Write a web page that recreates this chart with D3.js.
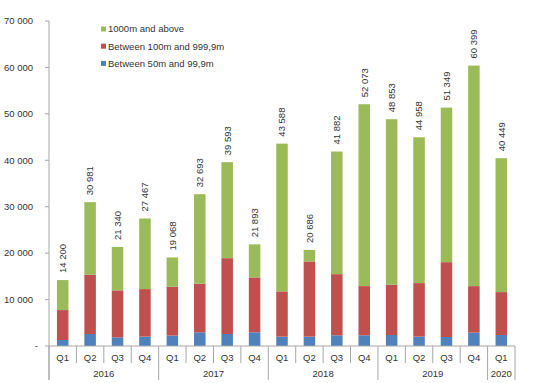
<!DOCTYPE html>
<html><head><meta charset="utf-8">
<script src="https://cdn.jsdelivr.net/npm/d3@7"></script>
<style>body{margin:0;background:#fff}svg{display:block;font-family:"Liberation Sans",Arial,sans-serif}</style>
</head><body>
<svg id="c" width="537" height="383"></svg>
<script>
const quarters = ["Q1","Q2","Q3","Q4","Q1","Q2","Q3","Q4","Q1","Q2","Q3","Q4","Q1","Q2","Q3","Q4","Q1"];
const years = ["2016","2016","2016","2016","2017","2017","2017","2017","2018","2018","2018","2018","2019","2019","2019","2019","2020"];
const totals = [14200,30981,21340,27467,19068,32693,39593,21893,43588,20686,41882,52073,48853,44958,51349,60399,40449];
const small = [1290,2580,1870,2020,2240,2950,2580,2950,2020,2020,2300,2300,2370,2020,1940,2880,2370];
const medium = [6450,12770,10110,10240,10530,10470,16340,11820,9740,16190,13180,10600,10830,11530,16120,10020,9240];
const large = totals.map((t,i)=>t-small[i]-medium[i]);
const yTicks = [0,10000,20000,30000,40000,50000,60000,70000];
const seriesNames = ["Between 50m and 99,9m","Between 100m and 999,9m","1000m and above"];
const colors = ["#4F81BD","#C0504D","#9BBB59"];

const svg = d3.select("#c");
const fmt = v => v===0 ? "-" : d3.format(",")(v).replace(/,/g," ");
const x = d3.scaleBand().domain(d3.range(totals.length)).range([49,515]).paddingInner(0.58).paddingOuter(0.29);
const y = d3.scaleLinear().domain([0,70000]).range([346,21]);
const axisColor = "#A6A6A6";

const rows = totals.map((t,i)=>({i, s:small[i], m:medium[i], l:large[i]}));
const stack = d3.stack().keys(["s","m","l"])(rows);
svg.selectAll("g.ser").data(stack).join("g").attr("fill",(d,k)=>colors[k])
  .selectAll("rect").data(d=>d).join("rect")
  .attr("x",d=>x(d.data.i)).attr("width",x.bandwidth())
  .attr("y",d=>y(d[1])).attr("height",d=>y(d[0])-y(d[1]));

// y axis
svg.append("line").attr("x1",49).attr("x2",49).attr("y1",y(70000)).attr("y2",380).attr("stroke",axisColor);
yTicks.forEach(t=>{
  svg.append("line").attr("x1",45).attr("x2",49).attr("y1",y(t)).attr("y2",y(t)).attr("stroke",axisColor);
  svg.append("text").attr("x", t===0?38:33).attr("y",y(t)).attr("dy","0.35em").attr("text-anchor","end")
    .attr("font-size",9.5).attr("fill","#333").text(fmt(t));
});
// x axis
svg.append("line").attr("x1",49).attr("x2",515).attr("y1",346).attr("y2",346).attr("stroke",axisColor);
const step = x.step();
const x0 = 49;
for(let i=0;i<=totals.length;i++){
  const xx = x0 + i*step;
  const yearEdge = i===0 || i===totals.length || years[i]!==years[i-1];
  svg.append("line").attr("x1",xx).attr("x2",xx).attr("y1",346).attr("y2",yearEdge?380:363).attr("stroke",axisColor);
}
svg.selectAll("text.q").data(quarters).join("text").attr("class","q")
  .attr("x",(d,i)=>x(i)+x.bandwidth()/2).attr("y",357.5).attr("dy","0.35em")
  .attr("text-anchor","middle").attr("font-size",9.5).attr("fill","#333").text(d=>d);
const yearGroups = d3.groups(years.map((y,i)=>({y,i})), d=>d.y);
yearGroups.forEach(([yr,arr])=>{
  const a = x0 + arr[0].i*step, b = x0 + (arr[arr.length-1].i+1)*step;
  svg.append("text").attr("x",(a+b)/2).attr("y",374).attr("dy","0.35em").attr("text-anchor","middle")
    .attr("font-size",9.5).attr("fill","#333").text(yr);
});
// total labels
svg.selectAll("text.tot").data(totals).join("text").attr("class","tot")
  .attr("transform",(d,i)=>`translate(${x(i)+x.bandwidth()/2},${y(d)-7}) rotate(-90)`)
  .attr("dy","0.35em").attr("text-anchor","start").attr("font-size",9.5).attr("fill","#333").text(fmt);
// legend
const lg = [2,1,0];
lg.forEach((k,j)=>{
  const ly = 29 + j*17.2;
  svg.append("rect").attr("x",101).attr("y",ly-2.5).attr("width",5).attr("height",5).attr("fill",colors[k]);
  svg.append("text").attr("x",108).attr("y",ly).attr("dy","0.35em").attr("font-size",9.5).attr("fill","#333").text(seriesNames[k]);
});
</script>
</body></html>
